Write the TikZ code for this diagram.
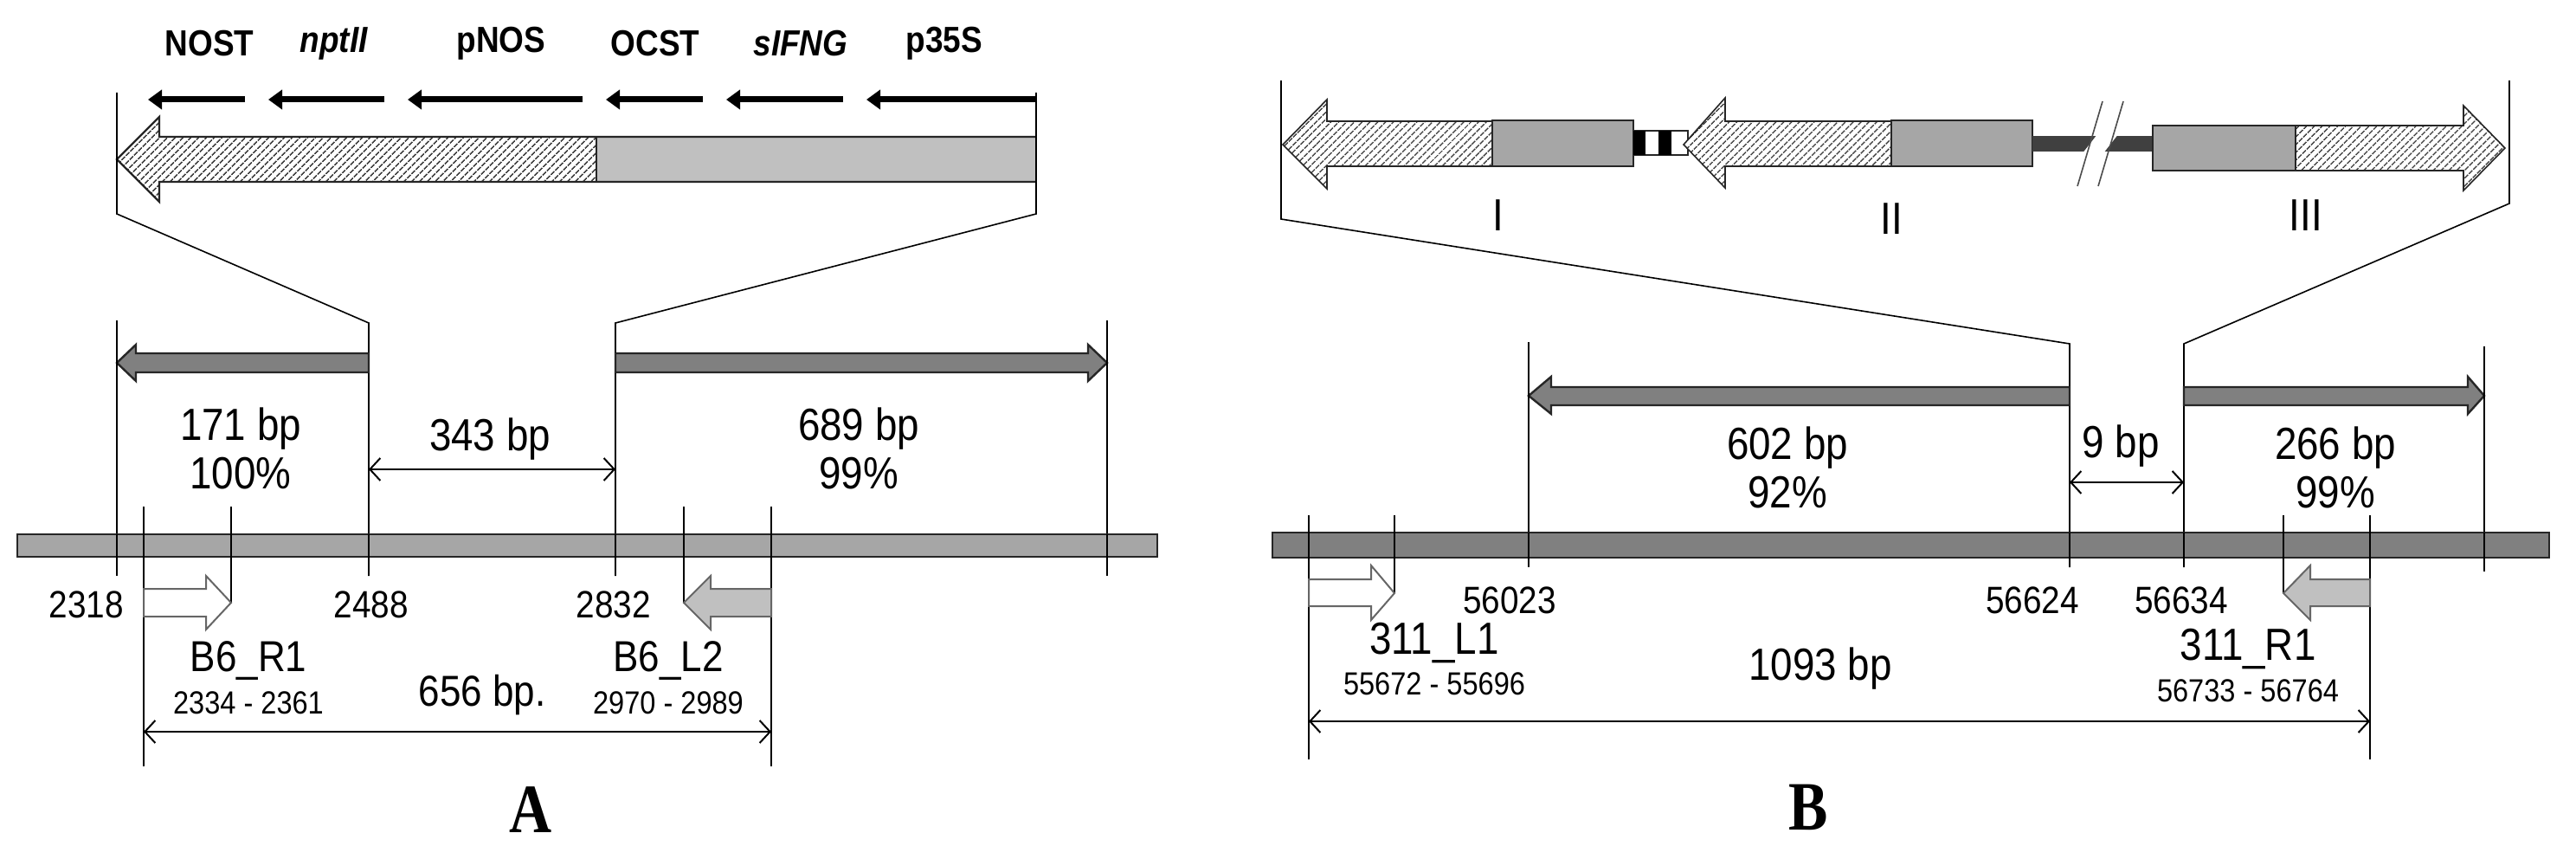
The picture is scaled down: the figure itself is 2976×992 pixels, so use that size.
\documentclass[tikz,border=0pt]{standalone}
\usepackage{fontspec}
\setmainfont[FakeStretch=0.88]{Liberation Sans}
\newfontfamily\serifbold[FakeStretch=0.85]{Liberation Serif}
\usetikzlibrary{arrows.meta,patterns.meta}
\definecolor{hatchc}{HTML}{404040}
\definecolor{lightg}{HTML}{C0C0C0}
\definecolor{midg}{HTML}{A6A6A6}
\definecolor{darkg}{HTML}{808080}
\definecolor{vdark}{HTML}{404040}
\begin{document}
\begin{tikzpicture}[x=1pt,y=-1pt,
  thin/.style={line width=1.6pt,draw=black},
  hatch/.style={pattern={Lines[angle=45,distance=6.5pt,line width=1.6pt]},pattern color=hatchc},
  outl/.style={draw=black!85,line width=2.4pt,line join=miter},
  dim/.style={line width=2pt,{Straight Barb[length=12pt,width=26pt]}-{Straight Barb[length=12pt,width=26pt]}},
  blk/.style={line width=7pt,-{Triangle[length=16pt,width=22pt]}},
  big/.style={font=\fontsize{52}{56}\selectfont,align=center},
  mid/.style={font=\fontsize{44}{48}\selectfont},
  sml/.style={font=\fontsize{37}{40}\selectfont},
  lab/.style={font=\bfseries\fontsize{42}{46}\selectfont},
  panel/.style={font=\serifbold\bfseries\fontsize{80}{84}\selectfont}]
\useasboundingbox (0,0) rectangle (2976,992);
% ================= Panel A =================
\foreach \t/\x in {NOST/242,{\textit{nptII}}/386,pNOS/579,OCST/757,{\textit{sIFNG}}/925,p35S/1091}
  \node[lab] at (\x,50) {\t};
\foreach \a/\b in {283/171,444/310,673/471,812/700,974/839,1198/1001}
  \draw[blk] (\a,115) -- (\b,115);
% big arrow
\fill[white] (689,158) -- (184,158) -- (184,135) -- (135,184) -- (184,233) -- (184,210) -- (689,210) -- cycle;
\fill[hatch] (689,158) -- (184,158) -- (184,135) -- (135,184) -- (184,233) -- (184,210) -- (689,210) -- cycle;
\fill[lightg] (689,158) rectangle (1197,210);
\draw[outl] (1197,158) -- (184,158) -- (184,135) -- (135,184) -- (184,233) -- (184,210) -- (1197,210);
\draw[outl,line width=1.6pt] (689,158) -- (689,210);
% zoom lines
\coordinate (aL) at (426,373); \coordinate (aR) at (711,373);
\draw[thin] (135,107) -- (135,247) -- (aL) -- (426,665);
\draw[thin] (1197,107) -- (1197,247) -- (aR) -- (711,665);
% dark arrows
\draw[outl,fill=darkg] (426,408) -- (157,408) -- (157,398) -- (135,419) -- (157,440) -- (157,430) -- (426,430) -- cycle;
\draw[outl,fill=darkg] (711,408) -- (1257,408) -- (1257,398) -- (1279,419) -- (1257,440) -- (1257,430) -- (711,430) -- cycle;
\draw[thin] (135,370) -- (135,665);
\draw[thin] (1279,370) -- (1279,665);
\node[big] at (278,518) {171 bp\\100\%};
\node[big] at (992,518) {689 bp\\99\%};
\node[big] at (566,507) {343 bp};
\draw[dim] (aL|-0,542) -- (aR|-0,542);
% chromosome bar
\draw[outl,fill=midg] (20,617) rectangle (1337,643);
\draw[thin] (135,617) -- (135,665);
\draw[thin] (1279,617) -- (1279,665);
\draw[thin] (426,617) -- (426,665);
\draw[thin] (711,617) -- (711,665);
% primers
\draw[thin] (166,585) -- (166,885);
\draw[thin] (267,585) -- (267,697);
\draw[thin] (790,585) -- (790,697);
\draw[thin] (891,585) -- (891,885);
\draw[outl,line width=2pt,draw=darkg!80!black,fill=white] (166,680) -- (238,680) -- (238,665) -- (267,696) -- (238,727) -- (238,712) -- (166,712) -- cycle;
\draw[outl,line width=2pt,draw=darkg!80!black,fill=lightg] (891,680) -- (821,680) -- (821,665) -- (790,696) -- (821,727) -- (821,712) -- (891,712) -- cycle;
\node[mid] at (100,698) {2318};
\node[mid] at (429,698) {2488};
\node[mid] at (709,698) {2832};
\node[big,font=\fontsize{50}{54}\selectfont] at (287,763) {B6\_R1};
\node[big,font=\fontsize{50}{54}\selectfont] at (772,763) {B6\_L2};
\node[sml] at (287,812) {2334 - 2361};
\node[sml] at (772,812) {2970 - 2989};
\node[big,font=\fontsize{50}{54}\selectfont] at (557,803) {656 bp.};
\draw[dim] (166,845) -- (891,845);
\node[panel] at (613,935) {A};
% ================= Panel B =================
% arrow I
\fill[white] (1724,140) -- (1533,140) -- (1533,115) -- (1482,167) -- (1533,218) -- (1533,192) -- (1724,192) -- cycle;
\fill[hatch] (1724,140) -- (1533,140) -- (1533,115) -- (1482,167) -- (1533,218) -- (1533,192) -- (1724,192) -- cycle;
\draw[outl,line width=1.6pt] (1724,140) -- (1533,140) -- (1533,115) -- (1482,167) -- (1533,218) -- (1533,192) -- (1724,192);
\draw[outl,fill=midg] (1724,139) rectangle (1887,192);
% connector
\draw[outl,line width=1.6pt,fill=white] (1887,151) rectangle (1950,179);
\fill[black] (1887,151) rectangle (1901,179);
\fill[black] (1916,151) rectangle (1931,179);
% arrow II
\fill[white] (2185,140) -- (1993,140) -- (1993,113) -- (1945,167) -- (1993,217) -- (1993,192) -- (2185,192) -- cycle;
\fill[hatch] (2185,140) -- (1993,140) -- (1993,113) -- (1945,167) -- (1993,217) -- (1993,192) -- (2185,192) -- cycle;
\draw[outl,line width=1.6pt] (2185,140) -- (1993,140) -- (1993,113) -- (1945,167) -- (1993,217) -- (1993,192) -- (2185,192);
\draw[outl,fill=midg] (2185,139) rectangle (2348,192);
% dark link with break
\fill[vdark] (2348,157) rectangle (2487,175);
\fill[white] (2427,150) -- (2451,150) -- (2426,182) -- (2402,182) -- cycle;
\draw[line width=1.6pt,draw=black!70] (2429,117) -- (2400,215);
\draw[line width=1.6pt,draw=black!70] (2453,117) -- (2424,215);
% arrow III
\fill[white] (2652,145) -- (2846,145) -- (2846,122) -- (2894,171) -- (2846,220) -- (2846,197) -- (2652,197) -- cycle;
\fill[hatch] (2652,145) -- (2846,145) -- (2846,122) -- (2894,171) -- (2846,220) -- (2846,197) -- (2652,197) -- cycle;
\draw[outl,line width=1.6pt] (2652,145) -- (2846,145) -- (2846,122) -- (2894,171) -- (2846,220) -- (2846,197) -- (2652,197);
\draw[outl,fill=midg] (2487,145) rectangle (2652,197);
\node[big] at (1731,249) {I};
\node[big] at (2185,253) {II};
\node[big] at (2664,249) {III};
% zoom lines
\coordinate (bL) at (2391,397); \coordinate (bR) at (2523,397);
\draw[thin] (1480,93) -- (1480,253) -- (bL) -- (2391,655);
\draw[thin] (2899,93) -- (2899,235) -- (bR) -- (2523,655);
% dark arrows
\draw[outl,fill=darkg] (2391,447) -- (1792,447) -- (1792,435) -- (1766,457) -- (1792,478) -- (1792,468) -- (2391,468) -- cycle;
\draw[outl,fill=darkg] (2523,447) -- (2851,447) -- (2851,435) -- (2870,457) -- (2851,478) -- (2851,468) -- (2523,468) -- cycle;
\draw[thin] (1766,395) -- (1766,655);
\draw[thin] (2870,400) -- (2870,660);
\node[big] at (2065,540) {602 bp\\92\%};
\node[big] at (2698,540) {266 bp\\99\%};
\node[big] at (2450,515) {9 bp};
\draw[dim] (bL|-0,557) -- (bR|-0,557);
% bar
\draw[outl,fill=darkg] (1470,615) rectangle (2945,644);
\draw[thin] (1766,615) -- (1766,655);
\draw[thin] (2391,615) -- (2391,655);
\draw[thin] (2523,615) -- (2523,655);
\draw[thin] (2870,615) -- (2870,660);
% primers
\draw[thin] (1512,595) -- (1512,877);
\draw[thin] (1611,595) -- (1611,685);
\draw[thin] (2638,595) -- (2638,685);
\draw[thin] (2738,595) -- (2738,877);
\draw[outl,line width=2pt,draw=darkg!80!black,fill=white] (1512,669) -- (1584,669) -- (1584,653) -- (1611,685) -- (1584,716) -- (1584,700) -- (1512,700) -- cycle;
\draw[outl,line width=2pt,draw=darkg!80!black,fill=lightg] (2738,669) -- (2669,669) -- (2669,653) -- (2638,685) -- (2669,716) -- (2669,700) -- (2738,700) -- cycle;
\node[mid] at (1744,693) {56023};
\node[mid] at (2348,693) {56624};
\node[mid] at (2520,693) {56634};
\node[big] at (1657,743) {311\_L1};
\node[sml] at (1657,790) {55672 - 55696};
\node[big] at (2103,772) {1093 bp};
\node[big] at (2597,750) {311\_R1};
\node[sml] at (2597,798) {56733 - 56764};
\draw[dim] (1512,833) -- (2738,833);
\node[panel] at (2089,932) {B};
\end{tikzpicture}
\end{document}
